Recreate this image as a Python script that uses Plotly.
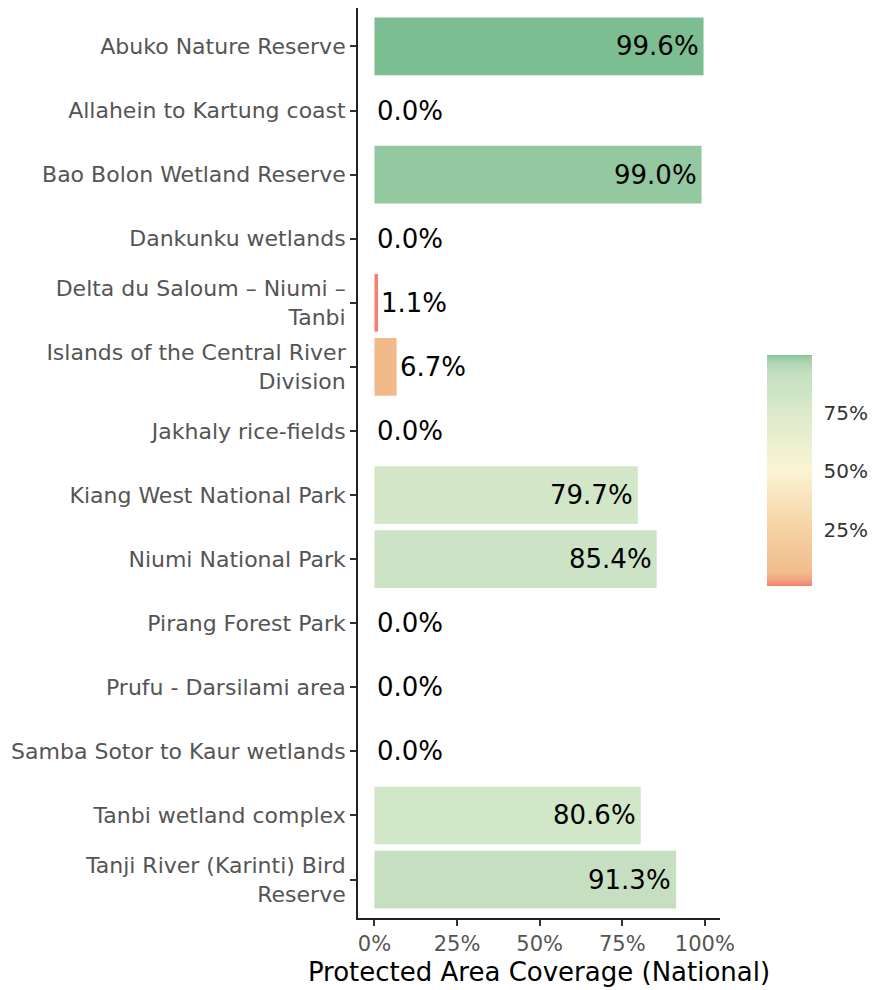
import plotly.graph_objects as go

sites = [
    "Abuko Nature Reserve",
    "Allahein to Kartung coast",
    "Bao Bolon Wetland Reserve",
    "Dankunku wetlands",
    "Delta du Saloum – Niumi –<br>Tanbi",
    "Islands of the Central River<br>Division",
    "Jakhaly rice-fields",
    "Kiang West National Park",
    "Niumi National Park",
    "Pirang Forest Park",
    "Prufu - Darsilami area",
    "Samba Sotor to Kaur wetlands",
    "Tanbi wetland complex",
    "Tanji River (Karinti) Bird<br>Reserve",
]
coverage = [99.6, 0.0, 99.0, 0.0, 1.1, 6.7, 0.0, 79.7, 85.4, 0.0, 0.0, 0.0, 80.6, 91.3]
labels = [f"{v:.1f}%" for v in coverage]
x_ticks = [0, 25, 50, 75, 100]
x_ticktext = ["0%", "25%", "50%", "75%", "100%"]
cb_ticks = [25, 50, 75]
cb_ticktext = ["25%", "50%", "75%"]

nonzero = [v for v in coverage if v > 0]
cmin, cmax = min(nonzero), max(nonzero)

colorscale = [
    [0.0, "#F4806E"],
    [0.025, "#F3A283"],
    [0.06, "#F2BC8C"],
    [0.25, "#F6D2A4"],
    [0.5, "#FAF4D4"],
    [0.75, "#DCEACA"],
    [0.80, "#D3E6C8"],
    [0.86, "#CDE3C5"],
    [0.92, "#C4DFC0"],
    [0.965, "#B0D6B3"],
    [0.994, "#93C8A0"],
    [1.0, "#7CBD92"],
]

FONT = "DejaVu Sans"

fig = go.Figure()
fig.add_trace(go.Bar(
    x=coverage, y=sites, orientation="h", width=0.9,
    marker=dict(
        color=coverage, colorscale=colorscale, cmin=cmin, cmax=cmax,
        line=dict(width=0),
        showscale=True,
        colorbar=dict(
            x=1.13, xanchor="left", xref="paper",
            y=0.4918, yanchor="middle",
            lenmode="pixels", len=231,
            thickness=45, outlinewidth=0, xpad=0, ypad=0,
            tickvals=cb_ticks, ticktext=cb_ticktext,
            ticks="outside", tickcolor="white", ticklen=8,
            tickfont=dict(family=FONT, size=20, color="#333333"),
        ),
    ),
    hoverinfo="skip",
))

for v, s, t in zip(coverage, sites, labels):
    big = v >= 50
    fig.add_annotation(
        x=v, y=s, xref="x", yref="y", text=t, showarrow=False,
        xanchor="right" if big else "left", yanchor="middle",
        xshift=-3 if big else 1,
        font=dict(family=FONT, size=26, color="black"),
    )

fig.update_layout(
    width=870, height=982,
    margin=dict(l=350, r=158, t=0, b=72),
    plot_bgcolor="white", paper_bgcolor="white",
    showlegend=False,
    font=dict(family=FONT),
)
fig.update_xaxes(
    range=[-0.05 * cmax, 1.05 * cmax], automargin=False,
    tickvals=x_ticks, ticktext=x_ticktext,
    ticks="outside", ticklen=6, tickwidth=1.5, tickcolor="#333333",
    tickfont=dict(family=FONT, size=21, color="#555555"),
    showline=True, linecolor="#222222", linewidth=1.8,
    showgrid=False, zeroline=False,
    title=dict(text="Protected Area Coverage (National)",
               font=dict(family=FONT, size=26, color="black"), standoff=8),
)
fig.update_yaxes(
    type="category", categoryorder="array", categoryarray=sites,
    range=[len(sites) - 1 + 0.6, -0.6], automargin=False,
    ticks="outside", ticklen=6, tickwidth=1.5, tickcolor="#333333",
    tickfont=dict(family=FONT, size=22, color="#555555"),
    showline=True, linecolor="#222222", linewidth=1.8,
    showgrid=False, zeroline=False,
)

fig.write_html("out.html")
